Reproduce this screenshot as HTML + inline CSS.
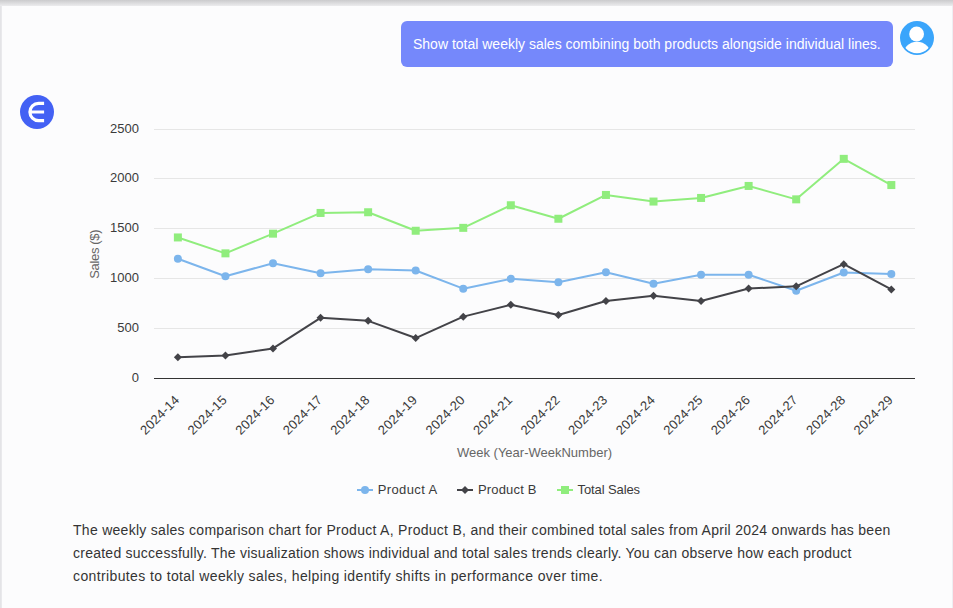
<!DOCTYPE html>
<html><head><meta charset="utf-8"><title>chat</title>
<style>
html,body{margin:0;padding:0;}
body{width:953px;height:608px;overflow:hidden;position:relative;background:#fcfcfd;font-family:"Liberation Sans", sans-serif;}
.top{position:absolute;left:0;top:0;width:953px;height:6px;background:linear-gradient(#cbcbcd,#ececee);}
.left{position:absolute;left:0;top:0;width:2px;height:608px;background:linear-gradient(90deg,#e2e2e5,#ebebee);}
.right{position:absolute;left:952px;top:6px;width:1px;height:602px;background:#eeeef2;}
.bubble{position:absolute;left:401px;top:21px;width:492px;height:46px;border-radius:6px;background:#7588fb;color:#fff;font-size:14px;line-height:46px;white-space:nowrap;}
.bubble span{position:absolute;left:12px;top:0;}
.para{position:absolute;left:73px;top:519px;font-size:14px;line-height:23px;color:#343434;white-space:nowrap;}
</style></head><body>
<div class="left"></div><div class="right"></div><div class="top"></div>
<div class="bubble"><span id="bt">Show total weekly sales combining both products alongside individual lines.</span></div>
<svg width="953" height="608" viewBox="0 0 953 608" style="position:absolute;left:0;top:0" font-family='"Liberation Sans", sans-serif'>
<text x="139" y="382.0" text-anchor="end" font-size="13" fill="#3a3a3a">0</text>
<path d="M154.0 328.5H915.0" stroke="#e6e6e6" stroke-width="1" fill="none"/>
<text x="139" y="332.0" text-anchor="end" font-size="13" fill="#3a3a3a">500</text>
<path d="M154.0 278.5H915.0" stroke="#e6e6e6" stroke-width="1" fill="none"/>
<text x="139" y="282.0" text-anchor="end" font-size="13" fill="#3a3a3a">1000</text>
<path d="M154.0 228.5H915.0" stroke="#e6e6e6" stroke-width="1" fill="none"/>
<text x="139" y="232.0" text-anchor="end" font-size="13" fill="#3a3a3a">1500</text>
<path d="M154.0 178.5H915.0" stroke="#e6e6e6" stroke-width="1" fill="none"/>
<text x="139" y="182.0" text-anchor="end" font-size="13" fill="#3a3a3a">2000</text>
<path d="M154.0 129.5H915.0" stroke="#e6e6e6" stroke-width="1" fill="none"/>
<text x="139" y="133.0" text-anchor="end" font-size="13" fill="#3a3a3a">2500</text>
<path d="M154.0 378.5H915.0" stroke="#333333" stroke-width="1" fill="none"/>
<text transform="translate(98.9,278.8) rotate(-90)" text-anchor="start" font-size="13" fill="#666666" textLength="49.4" lengthAdjust="spacing">Sales ($)</text>
<text transform="translate(180.3,400.7) rotate(-45)" text-anchor="end" font-size="13" letter-spacing="0.2" fill="#3a3a3a">2024-14</text>
<text transform="translate(227.8,400.7) rotate(-45)" text-anchor="end" font-size="13" letter-spacing="0.2" fill="#3a3a3a">2024-15</text>
<text transform="translate(275.4,400.7) rotate(-45)" text-anchor="end" font-size="13" letter-spacing="0.2" fill="#3a3a3a">2024-16</text>
<text transform="translate(323.0,400.7) rotate(-45)" text-anchor="end" font-size="13" letter-spacing="0.2" fill="#3a3a3a">2024-17</text>
<text transform="translate(370.5,400.7) rotate(-45)" text-anchor="end" font-size="13" letter-spacing="0.2" fill="#3a3a3a">2024-18</text>
<text transform="translate(418.1,400.7) rotate(-45)" text-anchor="end" font-size="13" letter-spacing="0.2" fill="#3a3a3a">2024-19</text>
<text transform="translate(465.7,400.7) rotate(-45)" text-anchor="end" font-size="13" letter-spacing="0.2" fill="#3a3a3a">2024-20</text>
<text transform="translate(513.2,400.7) rotate(-45)" text-anchor="end" font-size="13" letter-spacing="0.2" fill="#3a3a3a">2024-21</text>
<text transform="translate(560.8,400.7) rotate(-45)" text-anchor="end" font-size="13" letter-spacing="0.2" fill="#3a3a3a">2024-22</text>
<text transform="translate(608.3,400.7) rotate(-45)" text-anchor="end" font-size="13" letter-spacing="0.2" fill="#3a3a3a">2024-23</text>
<text transform="translate(655.9,400.7) rotate(-45)" text-anchor="end" font-size="13" letter-spacing="0.2" fill="#3a3a3a">2024-24</text>
<text transform="translate(703.5,400.7) rotate(-45)" text-anchor="end" font-size="13" letter-spacing="0.2" fill="#3a3a3a">2024-25</text>
<text transform="translate(751.0,400.7) rotate(-45)" text-anchor="end" font-size="13" letter-spacing="0.2" fill="#3a3a3a">2024-26</text>
<text transform="translate(798.6,400.7) rotate(-45)" text-anchor="end" font-size="13" letter-spacing="0.2" fill="#3a3a3a">2024-27</text>
<text transform="translate(846.2,400.7) rotate(-45)" text-anchor="end" font-size="13" letter-spacing="0.2" fill="#3a3a3a">2024-28</text>
<text transform="translate(893.7,400.7) rotate(-45)" text-anchor="end" font-size="13" letter-spacing="0.2" fill="#3a3a3a">2024-29</text>
<text x="534.5" y="457" text-anchor="middle" font-size="13" fill="#666666">Week (Year-WeekNumber)</text>
<path d="M177.88 258.75 L225.44 276.25 L273.01 263.25 L320.57 273.15 L368.13 269.15 L415.69 270.55 L463.26 288.65 L510.82 278.85 L558.38 282.15 L605.94 272.25 L653.51 283.75 L701.07 274.75 L748.63 274.75 L796.19 290.75 L843.76 272.55 L891.32 273.95" stroke="#7cb5ec" stroke-width="2" fill="none" stroke-linejoin="round" stroke-linecap="round"/>
<circle cx="177.88" cy="258.75" r="4" fill="#7cb5ec"/>
<circle cx="225.44" cy="276.25" r="4" fill="#7cb5ec"/>
<circle cx="273.01" cy="263.25" r="4" fill="#7cb5ec"/>
<circle cx="320.57" cy="273.15" r="4" fill="#7cb5ec"/>
<circle cx="368.13" cy="269.15" r="4" fill="#7cb5ec"/>
<circle cx="415.69" cy="270.55" r="4" fill="#7cb5ec"/>
<circle cx="463.26" cy="288.65" r="4" fill="#7cb5ec"/>
<circle cx="510.82" cy="278.85" r="4" fill="#7cb5ec"/>
<circle cx="558.38" cy="282.15" r="4" fill="#7cb5ec"/>
<circle cx="605.94" cy="272.25" r="4" fill="#7cb5ec"/>
<circle cx="653.51" cy="283.75" r="4" fill="#7cb5ec"/>
<circle cx="701.07" cy="274.75" r="4" fill="#7cb5ec"/>
<circle cx="748.63" cy="274.75" r="4" fill="#7cb5ec"/>
<circle cx="796.19" cy="290.75" r="4" fill="#7cb5ec"/>
<circle cx="843.76" cy="272.55" r="4" fill="#7cb5ec"/>
<circle cx="891.32" cy="273.95" r="4" fill="#7cb5ec"/>
<path d="M177.88 357.25 L225.44 355.55 L273.01 348.45 L320.57 317.85 L368.13 320.85 L415.69 338.05 L463.26 316.65 L510.82 304.75 L558.38 315.05 L605.94 301.05 L653.51 295.65 L701.07 301.05 L748.63 288.55 L796.19 286.35 L843.76 264.15 L891.32 289.45" stroke="#434348" stroke-width="2" fill="none" stroke-linejoin="round" stroke-linecap="round"/>
<path d="M177.88 353.25L181.88 357.25L177.88 361.25L173.88 357.25Z" fill="#434348"/>
<path d="M225.44 351.55L229.44 355.55L225.44 359.55L221.44 355.55Z" fill="#434348"/>
<path d="M273.01 344.45L277.01 348.45L273.01 352.45L269.01 348.45Z" fill="#434348"/>
<path d="M320.57 313.85L324.57 317.85L320.57 321.85L316.57 317.85Z" fill="#434348"/>
<path d="M368.13 316.85L372.13 320.85L368.13 324.85L364.13 320.85Z" fill="#434348"/>
<path d="M415.69 334.05L419.69 338.05L415.69 342.05L411.69 338.05Z" fill="#434348"/>
<path d="M463.26 312.65L467.26 316.65L463.26 320.65L459.26 316.65Z" fill="#434348"/>
<path d="M510.82 300.75L514.82 304.75L510.82 308.75L506.82 304.75Z" fill="#434348"/>
<path d="M558.38 311.05L562.38 315.05L558.38 319.05L554.38 315.05Z" fill="#434348"/>
<path d="M605.94 297.05L609.94 301.05L605.94 305.05L601.94 301.05Z" fill="#434348"/>
<path d="M653.51 291.65L657.51 295.65L653.51 299.65L649.51 295.65Z" fill="#434348"/>
<path d="M701.07 297.05L705.07 301.05L701.07 305.05L697.07 301.05Z" fill="#434348"/>
<path d="M748.63 284.55L752.63 288.55L748.63 292.55L744.63 288.55Z" fill="#434348"/>
<path d="M796.19 282.35L800.19 286.35L796.19 290.35L792.19 286.35Z" fill="#434348"/>
<path d="M843.76 260.15L847.76 264.15L843.76 268.15L839.76 264.15Z" fill="#434348"/>
<path d="M891.32 285.45L895.32 289.45L891.32 293.45L887.32 289.45Z" fill="#434348"/>
<path d="M177.88 237.45 L225.44 253.35 L273.01 233.65 L320.57 212.95 L368.13 212.25 L415.69 230.75 L463.26 227.85 L510.82 205.25 L558.38 218.75 L605.94 194.95 L653.51 201.55 L701.07 197.95 L748.63 185.95 L796.19 199.35 L843.76 158.85 L891.32 185.05" stroke="#90ed7d" stroke-width="2" fill="none" stroke-linejoin="round" stroke-linecap="round"/>
<rect x="173.88" y="233.45" width="8" height="8" fill="#90ed7d"/>
<rect x="221.44" y="249.35" width="8" height="8" fill="#90ed7d"/>
<rect x="269.01" y="229.65" width="8" height="8" fill="#90ed7d"/>
<rect x="316.57" y="208.95" width="8" height="8" fill="#90ed7d"/>
<rect x="364.13" y="208.25" width="8" height="8" fill="#90ed7d"/>
<rect x="411.69" y="226.75" width="8" height="8" fill="#90ed7d"/>
<rect x="459.26" y="223.85" width="8" height="8" fill="#90ed7d"/>
<rect x="506.82" y="201.25" width="8" height="8" fill="#90ed7d"/>
<rect x="554.38" y="214.75" width="8" height="8" fill="#90ed7d"/>
<rect x="601.94" y="190.95" width="8" height="8" fill="#90ed7d"/>
<rect x="649.51" y="197.55" width="8" height="8" fill="#90ed7d"/>
<rect x="697.07" y="193.95" width="8" height="8" fill="#90ed7d"/>
<rect x="744.63" y="181.95" width="8" height="8" fill="#90ed7d"/>
<rect x="792.19" y="195.35" width="8" height="8" fill="#90ed7d"/>
<rect x="839.76" y="154.85" width="8" height="8" fill="#90ed7d"/>
<rect x="887.32" y="181.05" width="8" height="8" fill="#90ed7d"/>
<path d="M357.0 490H373.0" stroke="#7cb5ec" stroke-width="2" fill="none"/>
<circle cx="365.00" cy="490.00" r="4" fill="#7cb5ec"/>
<text x="377.7" y="493.7" font-size="13" fill="#3a3a3a" textLength="59.5" lengthAdjust="spacing">Product A</text>
<path d="M457.0 490H473.0" stroke="#434348" stroke-width="2" fill="none"/>
<path d="M465.00 486.00L469.00 490.00L465.00 494.00L461.00 490.00Z" fill="#434348"/>
<text x="477.9" y="493.7" font-size="13" fill="#3a3a3a" textLength="58.6" lengthAdjust="spacing">Product B</text>
<path d="M557.0 490H573.0" stroke="#90ed7d" stroke-width="2" fill="none"/>
<rect x="561.00" y="486.00" width="8" height="8" fill="#90ed7d"/>
<text x="577.5" y="493.7" font-size="13" fill="#3a3a3a" textLength="62.6" lengthAdjust="spacing">Total Sales</text>
<circle cx="37" cy="112" r="17" fill="#4361f4"/>
<path d="M44.1 103.3H38.6A8.7 8.7 0 0 0 38.6 120.7H44.1M30.5 112H44.1" stroke="#ffffff" stroke-width="3.2" fill="none"/>
<defs><clipPath id="av"><circle cx="917" cy="38" r="15.3"/></clipPath></defs>
<circle cx="917" cy="38" r="17" fill="#3aa5fb"/>
<circle cx="916.6" cy="34" r="7.4" fill="#ffffff"/>
<circle cx="917" cy="56.3" r="14.5" fill="#ffffff" clip-path="url(#av)"/>
</svg>
<div class="para"><span id="l1" style="letter-spacing:0.282px">The weekly sales comparison chart for Product A, Product B, and their combined total sales from April 2024 onwards has been</span><br><span id="l2" style="letter-spacing:0.248px">created successfully. The visualization shows individual and total sales trends clearly. You can observe how each product</span><br><span id="l3" style="letter-spacing:0.38px">contributes to total weekly sales, helping identify shifts in performance over time.</span></div>
</body></html>
